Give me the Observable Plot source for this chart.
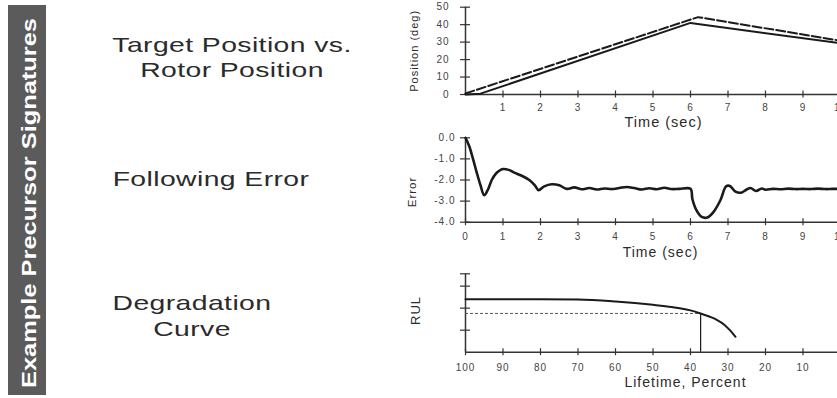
<!DOCTYPE html>
<html><head><meta charset="utf-8">
<script src="https://cdn.jsdelivr.net/npm/d3@7"></script>
<script src="https://cdn.jsdelivr.net/npm/@observablehq/plot@0.6"></script>
<style>
html,body{margin:0;padding:0;background:#fff;}
#page{position:relative;width:837px;height:398px;overflow:hidden;font-family:"Liberation Sans",Arial,sans-serif;}
.bar{position:absolute;left:8px;top:5px;width:38px;height:390px;background:#5b5b5b;}
.bartext{position:absolute;left:28px;top:203px;color:#fff;font-size:21px;font-weight:bold;line-height:1;white-space:nowrap;transform:translate(-50%,-50%) rotate(-90deg) scaleX(1.21);}
.lab{position:absolute;color:#2b2b2b;font-size:21px;line-height:1;white-space:nowrap;letter-spacing:0.3px;transform:translate(-50%,-50%) scaleX(1.35);}
.chart{position:absolute;left:0;width:880px;}
.chart svg{max-width:none !important;}
</style></head>
<body>
<div id="page">
  <div class="bar"></div>
  <div class="bartext">Example Precursor Signatures</div>
  <div class="lab" style="left:232px;top:44px">Target Position vs.</div>
  <div class="lab" style="left:232px;top:69px">Rotor Position</div>
  <div class="lab" style="left:211px;top:178px">Following Error</div>
  <div class="lab" style="left:192px;top:302px">Degradation</div>
  <div class="lab" style="left:192px;top:328px">Curve</div>
  <div class="chart" id="c1" style="top:0px"></div>
  <div class="chart" id="c2" style="top:130px"></div>
  <div class="chart" id="c3" style="top:260px"></div>
</div>
<script>
// ---- Data ----
// Chart 1: position (deg) vs time (sec)
const rotorT = [0, 0.4, 6, 10];
const rotorV = [0, 0.5, 41, 29.3];
const targetT = [0, 6.2, 10];
const targetV = [0.6, 44.3, 30.8];
const posDomain = [0, 50];
const posTicks = [0, 10, 20, 30, 40, 50];
const timeDomain = [0, 10];
const timeTicks1 = [1, 2, 3, 4, 5, 6, 7, 8, 9, 10];
const timeTicks2 = [0, 1, 2, 3, 4, 5, 6, 7, 8, 9, 10];

// Chart 2: following error vs time
const errT = [0, 0.1, 0.2, 0.3, 0.4, 0.5, 0.6, 0.7, 0.8, 0.9, 1.0, 1.15, 1.3, 1.5, 1.7, 1.85, 1.95, 2.1, 2.3, 2.5, 2.7, 2.9, 3.1, 3.3, 3.5, 3.7, 3.9, 4.1, 4.3, 4.5, 4.7, 4.9, 5.1, 5.3, 5.5, 5.7, 6.0, 6.05, 6.15, 6.3, 6.45, 6.6, 6.8, 6.95, 7.05, 7.2, 7.35, 7.5, 7.6, 7.75, 7.9, 8.0, 8.2, 8.4, 8.6, 8.8, 9.0, 9.2, 9.4, 9.6, 9.8, 10];
const errV = [0, -0.4, -1.0, -1.65, -2.25, -2.72, -2.45, -2.0, -1.72, -1.56, -1.48, -1.52, -1.65, -1.8, -2.0, -2.25, -2.48, -2.3, -2.2, -2.25, -2.42, -2.35, -2.44, -2.38, -2.45, -2.4, -2.43, -2.38, -2.33, -2.38, -2.45, -2.39, -2.44, -2.37, -2.43, -2.42, -2.42, -2.9, -3.4, -3.75, -3.78, -3.55, -2.95, -2.3, -2.28, -2.55, -2.6, -2.45, -2.38, -2.52, -2.4, -2.46, -2.42, -2.44, -2.41, -2.43, -2.42, -2.43, -2.41, -2.43, -2.42, -2.42];
const errDomain = [-4, 0];
const errTicks = [0, -1, -2, -3, -4];

// Chart 3: RUL degradation curve vs lifetime %
const lifePct = [100, 90, 80, 70, 60, 50, 45, 40, 37.3, 35, 33, 31, 29.5, 28];
const rulVal = [2.4, 2.4, 2.4, 2.39, 2.3, 2.15, 2.05, 1.9, 1.76, 1.62, 1.47, 1.25, 1.0, 0.7];
const thresholdLife = 37.3;
const thresholdRul = 1.76;
const lifeDomain = [100, 0];
const lifeTicks = [100, 90, 80, 70, 60, 50, 40, 30, 20, 10, 0];
const rulDomain = [0, 3.56];
const rulTicks = [1, 2, 3, 3.56];

// ---- Build ----
const rotor = rotorT.map((t, i) => ({t, v: rotorV[i]}));
const target = targetT.map((t, i) => ({t, v: targetV[i]}));
const err = errT.map((t, i) => ({t, v: errV[i]}));
const rul = lifePct.map((p, i) => ({p, v: rulVal[i]}));

const common = {
  width: 880, marginLeft: 465, marginRight: 40,
  style: {fontFamily: "Liberation Sans, Arial, sans-serif", fontSize: "10px", color: "#444", background: "none", overflow: "visible", letterSpacing: "1px", maxWidth: "none"}
};
const ink = "#1a1a1a";
const axisInk = "#333";
const titleInk = "#2b2b2b";

function tickMarks(xticks, yticks) {
  return [
    Plot.axisX({ticks: xticks, tickSize: 7, dy: -3.5, tickFormat: () => "", label: null, stroke: axisInk, strokeWidth: 1.2}),
    Plot.axisY({ticks: yticks, tickSize: 10, dx: 5, tickFormat: () => "", label: null, stroke: axisInk, strokeWidth: 1.2})
  ];
}
function yTitle(s, dx, dy, fs) {
  return Plot.text([s], {text: d => d, frameAnchor: "left", textAnchor: "middle", lineAnchor: "middle", rotate: -90, dx, dy, fontSize: fs, fill: titleInk});
}
function xTitle(s, dx, dy, fs) {
  return Plot.text([s], {text: d => d, frameAnchor: "bottom", textAnchor: "middle", lineAnchor: "middle", dx, dy, fontSize: fs, fill: titleInk});
}

const c1 = Plot.plot({
  ...common, height: 130, marginTop: 6.7, marginBottom: 36,
  x: {domain: timeDomain},
  y: {domain: posDomain},
  marks: [
    Plot.ruleY([posDomain[0]], {stroke: axisInk, strokeWidth: 1.5}),
    Plot.ruleX([timeDomain[0]], {stroke: axisInk, strokeWidth: 1.5}),
    ...tickMarks(timeTicks1, posTicks),
    Plot.axisX({ticks: timeTicks1, tickSize: 0, tickPadding: 9.7, label: null}),
    Plot.axisY({ticks: posTicks, tickSize: 0, tickPadding: 16, label: null}),
    Plot.line(target, {x: "t", y: "v", stroke: ink, strokeWidth: 2, strokeDasharray: "9,3"}),
    Plot.line(rotor, {x: "t", y: "v", stroke: ink, strokeWidth: 2}),
    xTitle("Time (sec)", 10.5, 27.5, 14.5),
    yTitle("Position (deg)", -51, 0, 11)
  ]
});
document.getElementById("c1").append(c1);

const c2 = Plot.plot({
  ...common, height: 130, marginTop: 7.3, marginBottom: 38.3,
  x: {domain: timeDomain},
  y: {domain: errDomain},
  marks: [
    Plot.ruleY([errDomain[0]], {stroke: axisInk, strokeWidth: 1.5}),
    Plot.ruleX([timeDomain[0]], {stroke: axisInk, strokeWidth: 1.5}),
    ...tickMarks(timeTicks2, errTicks),
    Plot.axisX({ticks: timeTicks2, tickSize: 0, tickPadding: 11, label: null}),
    Plot.axisY({ticks: errTicks, tickSize: 0, tickPadding: 10, label: null, tickFormat: d => d.toFixed(1)}),
    Plot.line(err, {x: "t", y: "v", stroke: ink, strokeWidth: 2.6, curve: "catmull-rom"}),
    xTitle("Time (sec)", 7.5, 30, 14),
    yTitle("Error", -53, 12, 11.5)
  ]
});
document.getElementById("c2").append(c2);

const c3 = Plot.plot({
  ...common, height: 138, marginTop: 13.3, marginBottom: 46.3,
  x: {domain: lifeDomain},
  y: {domain: rulDomain},
  marks: [
    Plot.ruleY([rulDomain[0]], {stroke: axisInk, strokeWidth: 1.5}),
    Plot.ruleX([lifeDomain[0]], {stroke: axisInk, strokeWidth: 1.5}),
    ...tickMarks(lifeTicks, rulTicks),
    Plot.axisX({ticks: lifeTicks, tickSize: 0, tickPadding: 12, label: null}),
    Plot.ruleY([thresholdRul], {x1: lifeDomain[0], x2: thresholdLife, stroke: "#555", strokeWidth: 1, strokeDasharray: "3,2"}),
    Plot.ruleX([thresholdLife], {y1: rulDomain[0], y2: thresholdRul, stroke: ink, strokeWidth: 1.2}),
    Plot.line(rul, {x: "p", y: "v", stroke: ink, strokeWidth: 2, curve: "monotone-x"}),
    xTitle("Lifetime, Percent", 32.5, 30.5, 14),
    yTitle("RUL", -50, -2.5, 13)
  ]
});
document.getElementById("c3").append(c3);
</script>
</body></html>
